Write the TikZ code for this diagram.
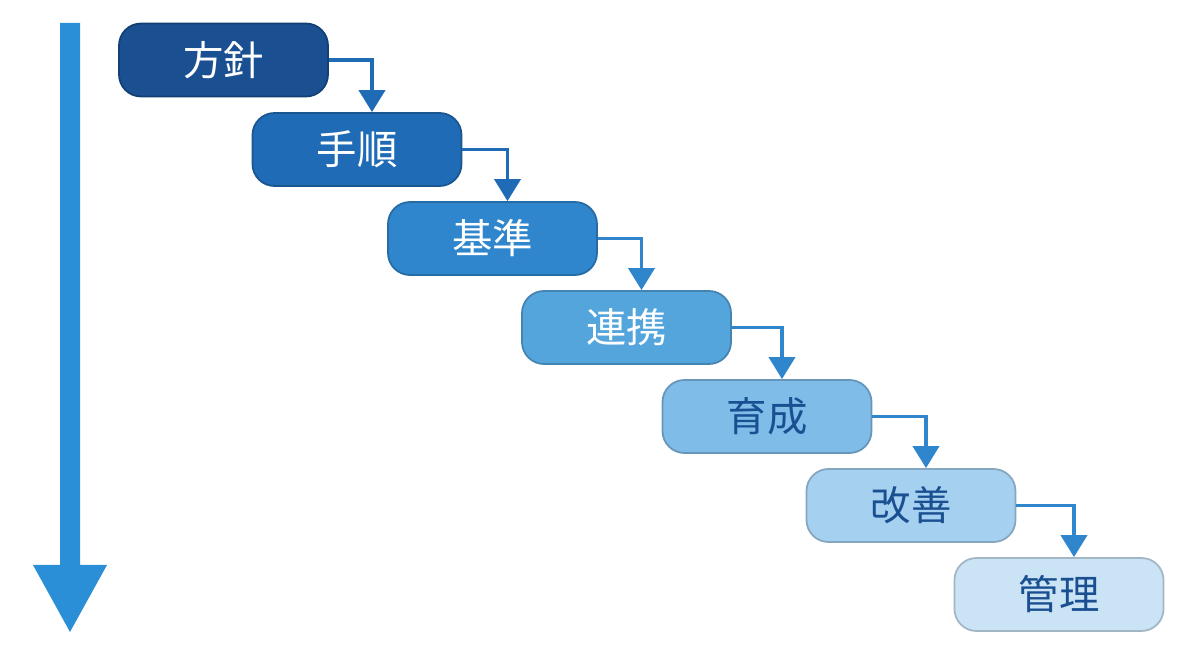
\documentclass[tikz,border=0pt]{standalone}
\usepackage{fontspec}
\newfontfamily\cjk{Noto Sans CJK JP}
\usetikzlibrary{arrows.meta,positioning}
\definecolor{cA}{HTML}{1A4F91}
\definecolor{cB}{HTML}{1F6BB5}
\definecolor{cC}{HTML}{2F86CC}
\definecolor{cD}{HTML}{55A5DD}
\definecolor{cE}{HTML}{7FBCE7}
\definecolor{cF}{HTML}{A6D0EF}
\definecolor{cG}{HTML}{CAE4F6}
\definecolor{txtdark}{HTML}{1A4F91}
\definecolor{bigarrow}{HTML}{2A8FD6}
\tikzset{
  step/.style={rectangle, rounded corners=2.2mm, minimum width=2.09cm,
               minimum height=0.73cm, font=\cjk\fontsize{11.5}{12}\selectfont,
               draw=#1!80!black, line width=0.5pt, fill=#1},
  link/.style={-{Triangle[length=2.2mm,width=2.6mm]}, line width=1.1pt},
}
\begin{document}
\begin{tikzpicture}
  \useasboundingbox (0,0) rectangle (12,6.55);
  % big downward arrow
  \fill[bigarrow] (0.60,6.32) -- (0.80,6.32) -- (0.80,0.90) -- (1.07,0.90)
      -- (0.70,0.23) -- (0.33,0.90) -- (0.60,0.90) -- cycle;
  % steps
  \node[step=cA, text=white]   (hoshin)  at (2.235,5.95)  {方針};
  \node[step=cB, text=white]   (tejun)   at (3.57,5.055)  {手順};
  \node[step=cC, text=white]   (kijun)   at (4.925,4.165) {基準};
  \node[step=cD, text=white]   (renkei)  at (6.265,3.275) {連携};
  \node[step=cE, text=txtdark] (ikusei)  at (7.67,2.385)  {育成};
  \node[step=cF, text=txtdark] (kaizen)  at (9.11,1.495)  {改善};
  \node[step=cG, text=txtdark] (kanri)   at (10.59,0.605) {管理};
  % connectors
  \draw[link, cB] (hoshin.east) -| ([xshift=1.5mm]tejun.north);
  \draw[link, cB] (tejun.east)  -| ([xshift=1.5mm]kijun.north);
  \draw[link, cC] (kijun.east)  -| ([xshift=1.5mm]renkei.north);
  \draw[link, cC] (renkei.east) -| ([xshift=1.5mm]ikusei.north);
  \draw[link, cC] (ikusei.east) -| ([xshift=1.5mm]kaizen.north);
  \draw[link, cC] (kaizen.east) -| ([xshift=1.5mm]kanri.north);
\end{tikzpicture}
\end{document}
